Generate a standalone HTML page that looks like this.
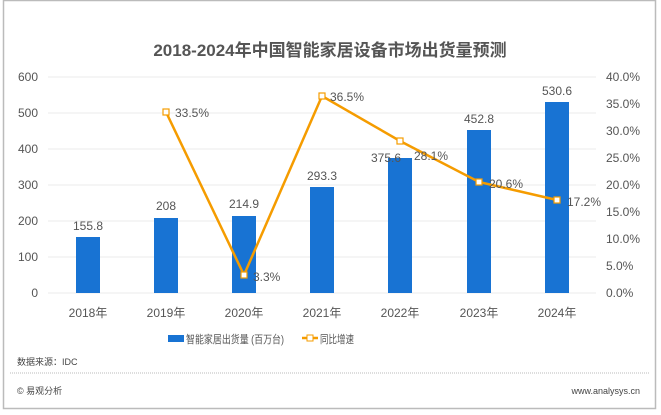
<!DOCTYPE html>
<html><head><meta charset="utf-8"><style>
body{margin:0;background:#fff;}
svg{display:block;font-family:"Liberation Sans","Noto Sans CJK SC",sans-serif;}
</style></head><body>
<svg width="661" height="415" viewBox="0 0 661 415">
<rect x="0" y="0" width="661" height="415" fill="#fff"/>
<rect x="3.5" y="0.5" width="652" height="408" fill="none" stroke="#bbb" stroke-width="1.5"/>
<text x="330" y="56" text-anchor="middle" font-size="17" font-weight="bold" fill="#555">2018-2024年中国智能家居设备市场出货量预测</text>
<g stroke="#ebebeb" stroke-width="1">
<line x1="48" y1="77" x2="596" y2="77"/><line x1="48" y1="113" x2="596" y2="113"/>
<line x1="48" y1="149" x2="596" y2="149"/><line x1="48" y1="185" x2="596" y2="185"/>
<line x1="48" y1="221" x2="596" y2="221"/><line x1="48" y1="257" x2="596" y2="257"/>
<line x1="48" y1="293" x2="596" y2="293"/>
</g>
<g font-size="12" fill="#555" text-anchor="end">
<text x="38" y="81">600</text><text x="38" y="117">500</text><text x="38" y="153">400</text>
<text x="38" y="189">300</text><text x="38" y="225">200</text><text x="38" y="261">100</text><text x="38" y="297">0</text>
</g>
<g font-size="12" fill="#555" text-anchor="start">
<text x="606" y="81">40.0%</text><text x="606" y="108">35.0%</text><text x="606" y="135">30.0%</text>
<text x="606" y="162">25.0%</text><text x="606" y="189">20.0%</text><text x="606" y="216">15.0%</text>
<text x="606" y="243">10.0%</text><text x="606" y="270">5.0%</text><text x="606" y="297">0.0%</text>
</g>
<g fill="#1873d3">
<rect x="76" y="237" width="24" height="56"/>
<rect x="154" y="218" width="24" height="75"/>
<rect x="232" y="216" width="24" height="77"/>
<rect x="310" y="187" width="24" height="106"/>
<rect x="388" y="158" width="24" height="135"/>
<rect x="467" y="130" width="24" height="163"/>
<rect x="545" y="102" width="24" height="191"/>
</g>
<g font-size="12" fill="#555" text-anchor="middle">
<text x="88" y="230">155.8</text><text x="166" y="210">208</text><text x="244" y="208">214.9</text>
<text x="322" y="180">293.3</text><text x="386" y="162">375.6</text><text x="479" y="123">452.8</text><text x="557" y="95">530.6</text>
</g>
<polyline points="166,112 244,275 322,96 400,141 479,182 557,200" fill="none" stroke="#f59c00" stroke-width="2.5"/>
<g fill="#fff" stroke="#f59c00" stroke-width="1.2">
<rect x="163" y="109" width="6" height="6"/><rect x="241" y="272" width="6" height="6"/>
<rect x="319" y="93" width="6" height="6"/><rect x="397" y="138" width="6" height="6"/>
<rect x="476" y="179" width="6" height="6"/><rect x="554" y="197" width="6" height="6"/>
</g>
<g font-size="12" fill="#555">
<text x="175" y="117">33.5%</text><text x="253" y="281">3.3%</text><text x="330" y="101">36.5%</text>
<text x="414" y="160">28.1%</text><text x="489" y="188">20.6%</text><text x="567" y="206">17.2%</text>
</g>
<g font-size="12" fill="#555" text-anchor="middle">
<text x="88" y="317">2018年</text><text x="166" y="317">2019年</text><text x="244" y="317">2020年</text>
<text x="322" y="317">2021年</text><text x="400" y="317">2022年</text><text x="479" y="317">2023年</text><text x="557" y="317">2024年</text>
</g>
<rect x="168" y="335" width="16" height="7" fill="#1873d3"/>
<text x="186" y="343" font-size="11" fill="#555" textLength="98" lengthAdjust="spacingAndGlyphs">智能家居出货量 (百万台)</text>
<line x1="302" y1="338" x2="318" y2="338" stroke="#f59c00" stroke-width="2.5"/>
<rect x="307" y="335" width="6" height="6" fill="#fff" stroke="#f59c00"/>
<text x="320" y="343" font-size="11" fill="#555" textLength="34" lengthAdjust="spacingAndGlyphs">同比增速</text>
<text x="17" y="365" font-size="9" fill="#444">数据来源：IDC</text>
<line x1="10" y1="373" x2="650" y2="373" stroke="#bbb" stroke-dasharray="1,1"/>
<text x="17" y="394" font-size="9" fill="#444">© 易观分析</text>
<text x="640" y="394" font-size="9" fill="#444" text-anchor="end">www.analysys.cn</text>
</svg>
</body></html>
